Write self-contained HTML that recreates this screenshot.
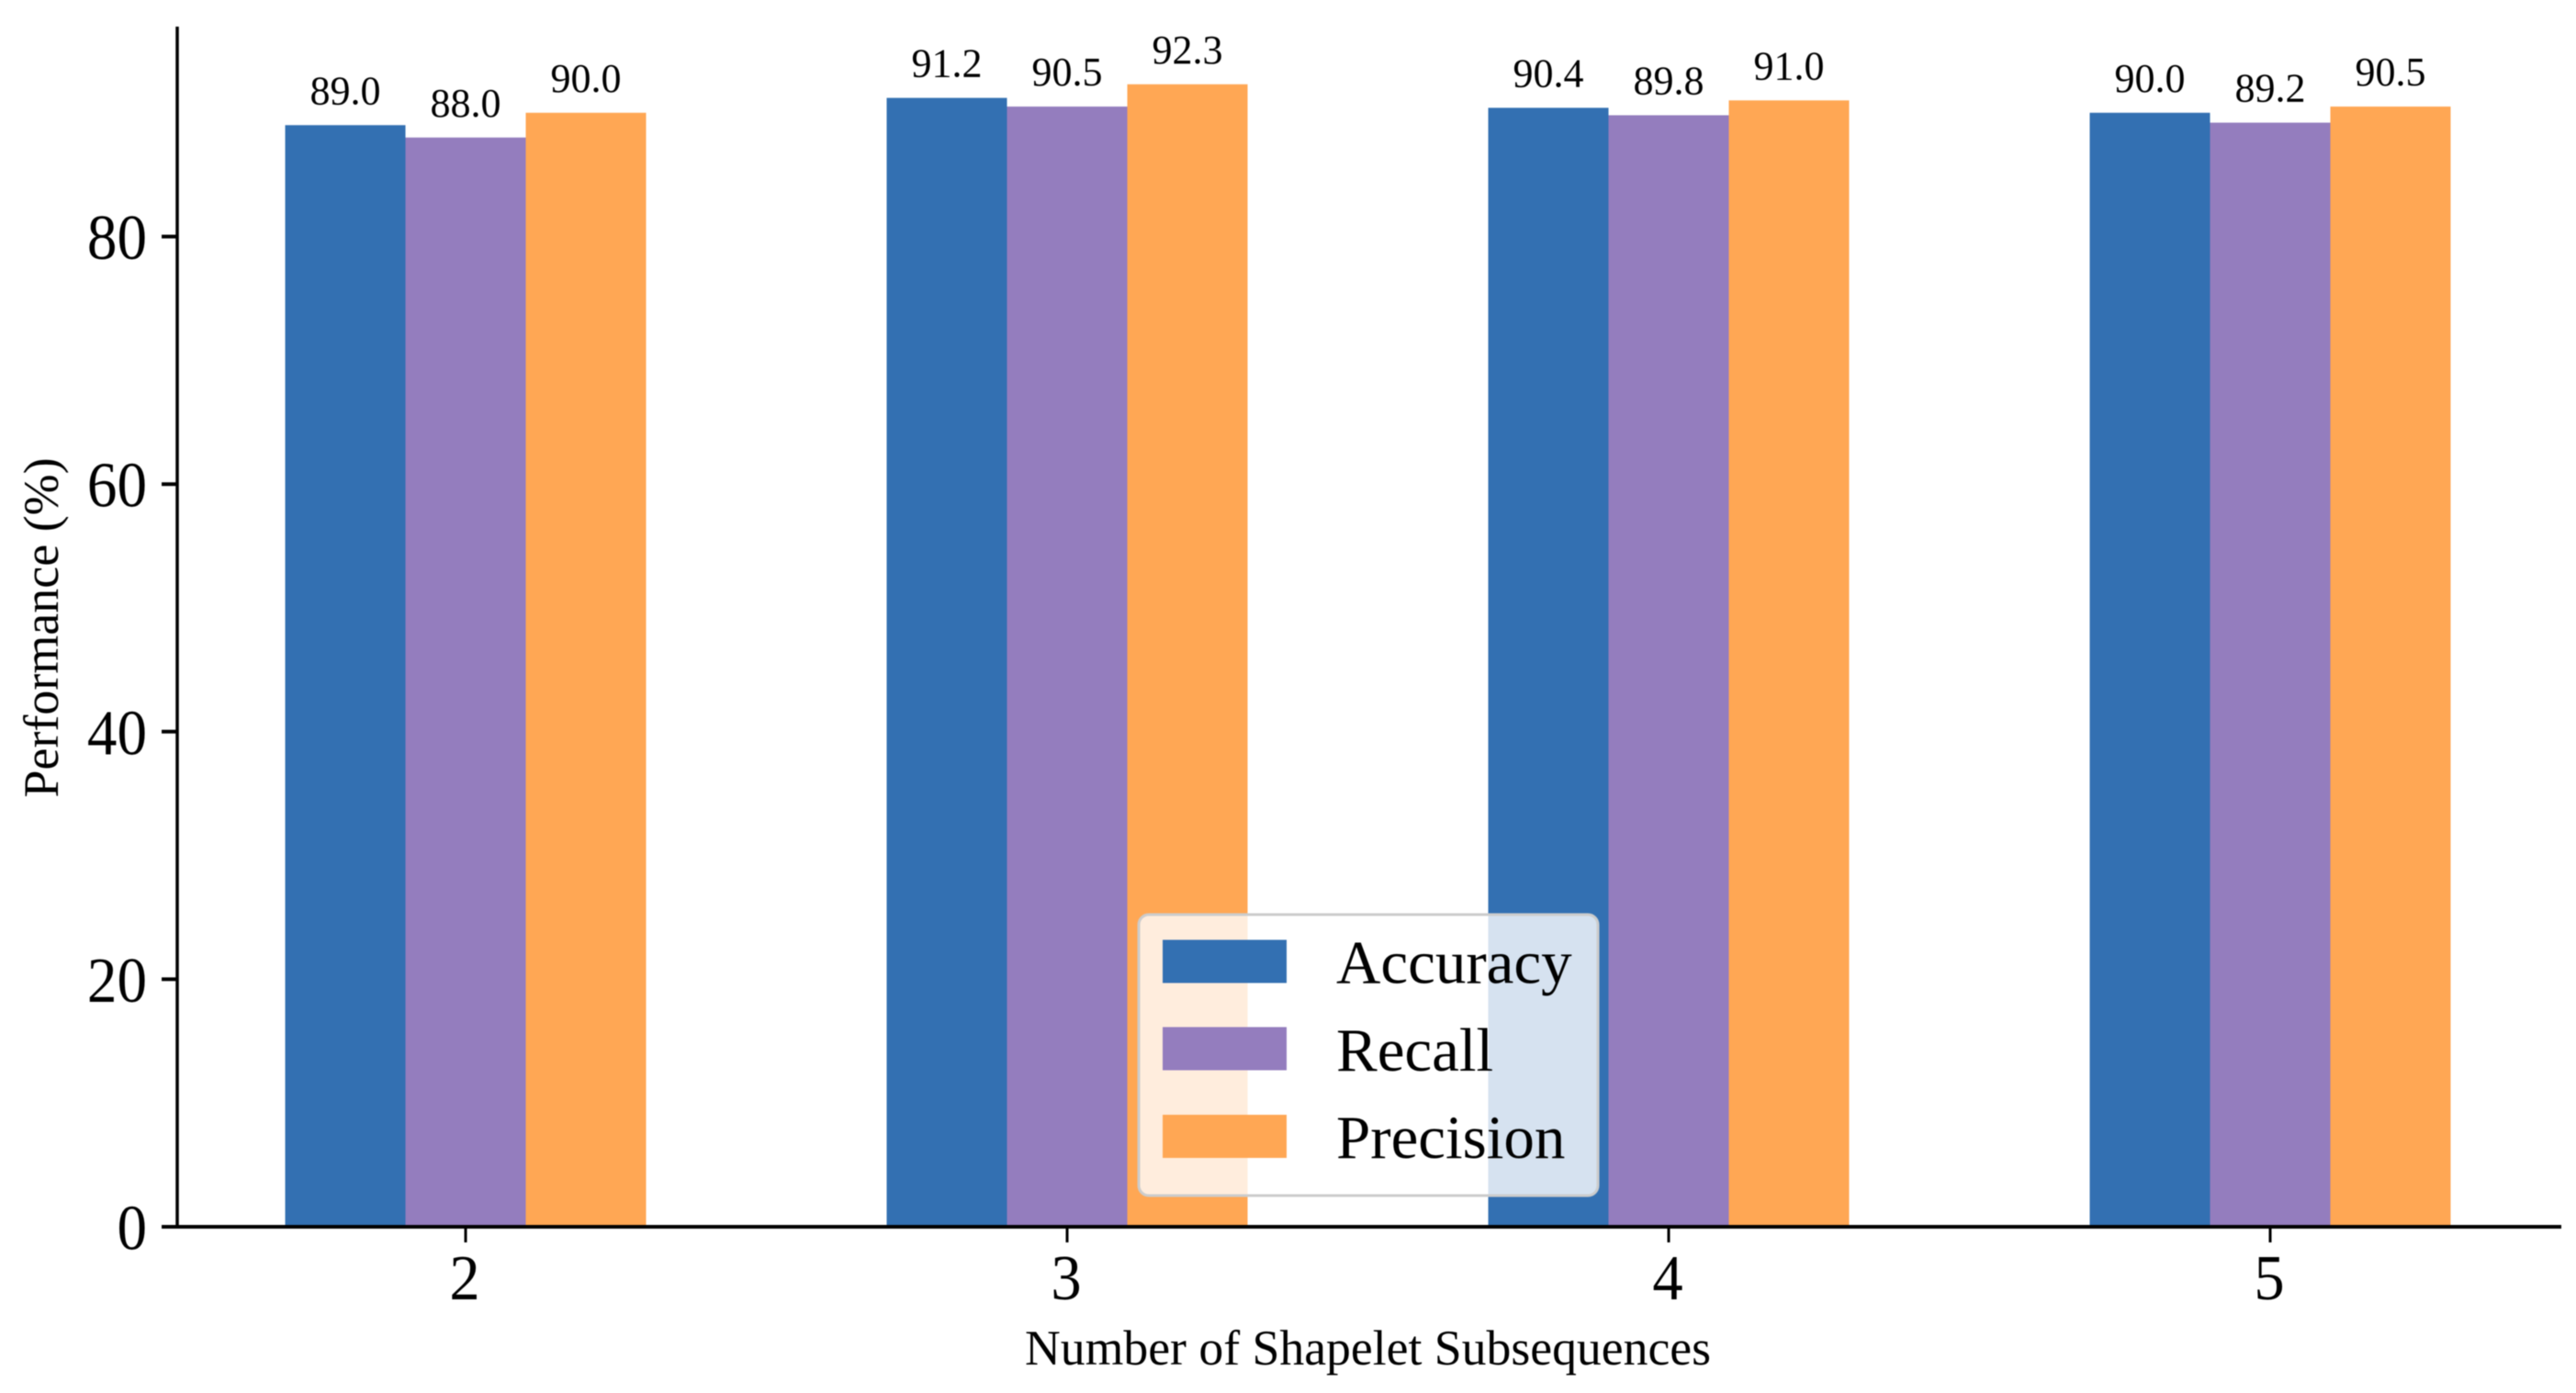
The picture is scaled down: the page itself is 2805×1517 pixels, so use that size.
<!DOCTYPE html>
<html lang="en">
<head>
<meta charset="utf-8">
<title>Performance by Number of Shapelet Subsequences</title>
<style>
  html, body { margin: 0; padding: 0; background: #fff; }
  svg { display: block; filter: blur(0.6px); }
  text { font-family: "Liberation Serif", "Times New Roman", serif; fill: #000; }
</style>
</head>
<body>
<svg id="chart" xmlns="http://www.w3.org/2000/svg" width="2805" height="1517" viewBox="0 0 2805 1517">
  <rect x="-5" y="-5" width="2815" height="1527" fill="#ffffff"/>
  <g id="bars"></g>
  <g id="bar-labels"></g>
  <g id="y-ticks"></g>
  <g id="x-ticks"></g>
  <line x1="193" y1="29" x2="193" y2="1338" stroke="#000" stroke-width="3.5"/>
  <line x1="176" y1="1336" x2="2789" y2="1336" stroke="#000" stroke-width="4"/>
  <text transform="translate(63 683.5) rotate(-90)" text-anchor="middle" font-size="54">Performance (%)</text>
  <text x="1489.5" y="1486" text-anchor="middle" font-size="54" textLength="747" lengthAdjust="spacingAndGlyphs">Number of Shapelet Subsequences</text>
  <g>
    <rect x="1240" y="996" width="500" height="306" rx="11" ry="11" fill="#ffffff" fill-opacity="0.8" stroke="#cccccc" stroke-width="3"/>
    <g>
      <rect x="1266" y="1023.5" width="135" height="47" fill="#3370b2"/>
      <text x="1455" y="1070.5" font-size="67">Accuracy</text>
    </g>
    <g>
      <rect x="1266" y="1118.5" width="135" height="47" fill="#947dbe"/>
      <text x="1455" y="1166" font-size="67">Recall</text>
    </g>
    <g>
      <rect x="1266" y="1214" width="135" height="47" fill="#ffa754"/>
      <text x="1455" y="1261" font-size="67">Precision</text>
    </g>
  </g>
</svg>
<script>
const categories = ["2", "3", "4", "5"];
const accuracy = [89.0, 91.2, 90.4, 90.0];
const recall = [88.0, 90.5, 89.8, 89.2];
const precision = [90.0, 92.3, 91.0, 90.5];
const yTickLabels = [0, 20, 40, 60, 80];

const NS = "http://www.w3.org/2000/svg";
const seriesList = [
  { key: "accuracy", values: accuracy, color: "#3370b2" },
  { key: "recall", values: recall, color: "#947dbe" },
  { key: "precision", values: precision, color: "#ffa754" }
];

// Axis functions
function yScale(v) { return 1336 - v * 13.48; }
function xScale(i) { return 507 + i * 655; }
const barWidth = 131;

const barsG = document.getElementById("bars");
const labelsG = document.getElementById("bar-labels");
const yTicksG = document.getElementById("y-ticks");
const xTicksG = document.getElementById("x-ticks");

seriesList.forEach(function (s, si) {
  s.values.forEach(function (v, i) {
    const left = xScale(i) + (si - 1.5) * barWidth;
    const bar = document.createElementNS(NS, "rect");
    
    
    bar.setAttribute("x", left);
    bar.setAttribute("y", yScale(v));
    bar.setAttribute("width", barWidth);
    bar.setAttribute("height", yScale(0) - yScale(v));
    bar.setAttribute("fill", s.color);
    barsG.appendChild(bar);

    const label = document.createElementNS(NS, "text");
    
    
    label.setAttribute("x", left + barWidth / 2);
    label.setAttribute("y", yScale(v) - 23);
    label.setAttribute("text-anchor", "middle");
    label.setAttribute("font-size", "44");
    label.textContent = v.toFixed(1);
    labelsG.appendChild(label);
  });
});

yTickLabels.forEach(function (t) {
  const y = yScale(t);
  const mark = document.createElementNS(NS, "line");
  
  
  mark.setAttribute("x1", 176);
  mark.setAttribute("x2", 193);
  mark.setAttribute("y1", y);
  mark.setAttribute("y2", y);
  mark.setAttribute("stroke", "#000");
  mark.setAttribute("stroke-width", "4");
  yTicksG.appendChild(mark);

  const label = document.createElementNS(NS, "text");
  
  
  label.setAttribute("transform", "translate(160 " + (y + 24.5) + ") scale(0.93 1)");
  label.setAttribute("text-anchor", "end");
  label.setAttribute("font-size", "70");
  label.textContent = String(t);
  yTicksG.appendChild(label);
});

categories.forEach(function (c, i) {
  const x = xScale(i);
  const mark = document.createElementNS(NS, "line");
  
  
  mark.setAttribute("x1", x);
  mark.setAttribute("x2", x);
  mark.setAttribute("y1", 1336);
  mark.setAttribute("y2", 1353);
  mark.setAttribute("stroke", "#000");
  mark.setAttribute("stroke-width", "3");
  xTicksG.appendChild(mark);

  const label = document.createElementNS(NS, "text");
  
  
  label.setAttribute("transform", "translate(" + (x - 1) + " 1415) scale(0.95 1)");
  label.setAttribute("text-anchor", "middle");
  label.setAttribute("font-size", "70");
  label.textContent = c;
  xTicksG.appendChild(label);
});
</script>
</body>
</html>
